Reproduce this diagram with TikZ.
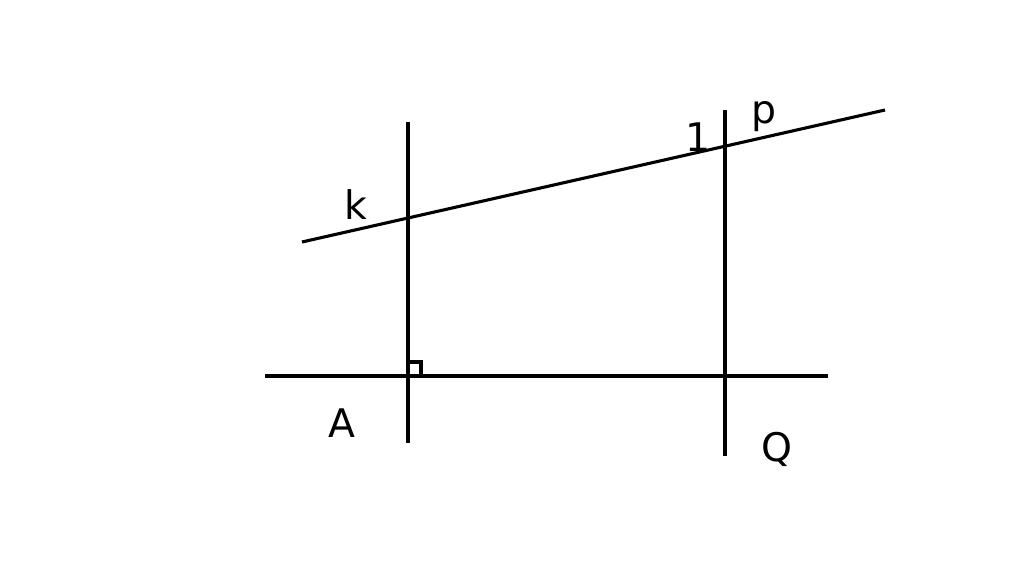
\documentclass[tikz,border=0pt]{standalone}
\usepackage{fontspec}
\setmainfont{DejaVu Sans}
\begin{document}
\begin{tikzpicture}[x=0.025cm,y=-0.025cm,line width=2.2pt,
                    lbl/.style={font=\fontsize{28}{30}\selectfont}]
                    \useasboundingbox (0,0) rectangle (1024,576);
                    \coordinate (hl)  at (265,376);
                    \coordinate (hr)  at (828,376);
                    \coordinate (at)  at (408,122);
                    \coordinate (ab)  at (408,443);
                    \coordinate (qt)  at (725,110);
                    \coordinate (qb)  at (725,456);
                    \coordinate (kl)  at (302,242);
                    \coordinate (kr)  at (885,110);
                    \draw (hl) -- (hr);
                    \draw (at) -- (ab);
                    \draw (qt) -- (qb);
                    \draw (kl) -- (kr);
                    \draw (408,362) -- (421,362) -- (421,376);
                    \node[lbl] (k)   at (356,205) {k};
                    \node[lbl] (p)   at (764,117) {p};
                    \node[lbl] (one) at (698,137) {1};
                    \node[lbl] (A)   at (342,423) {A};
                    \node[lbl] (Q)   at (777,449) {Q};
                \end{tikzpicture}
\end{document}
